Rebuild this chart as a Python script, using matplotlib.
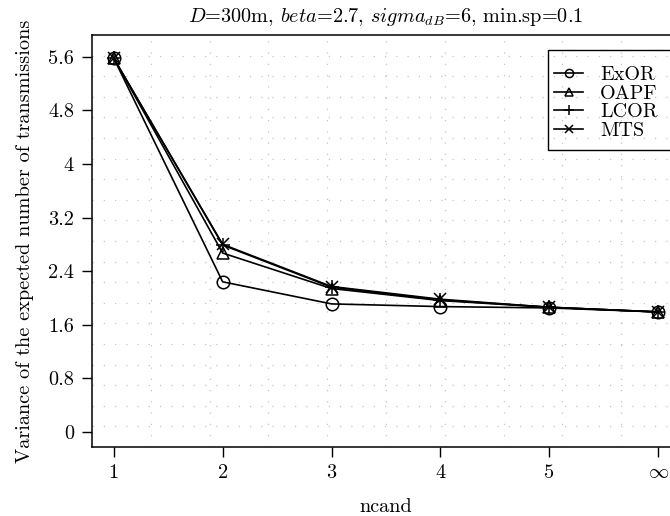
import matplotlib
matplotlib.use("Agg")
import matplotlib.pyplot as plt
from matplotlib.patches import Rectangle

plt.rcParams['font.family'] = ['cmr10', 'DejaVu Sans']
plt.rcParams['mathtext.fontset'] = 'cm'
plt.rcParams['axes.formatter.use_mathtext'] = True

x = [1, 2, 3, 4, 5, 6]
xticklabels = ['1', '2', '3', '4', '5', r'$\infty$']
exor = [5.58, 2.24, 1.91, 1.87, 1.85, 1.79]
oapf = [5.58, 2.67, 2.14, 1.96, 1.86, 1.79]
lcor = [5.58, 2.79, 2.16, 1.97, 1.86, 1.79]
mts = [5.58, 2.80, 2.17, 1.98, 1.86, 1.79]
yticks = [0, 0.8, 1.6, 2.4, 3.2, 4, 4.8, 5.6]
yticklabels = ['0', '0.8', '1.6', '2.4', '3.2', '4', '4.8', '5.6']

W, H = 670, 516
fig = plt.figure(figsize=(W / 100, H / 100), dpi=100)
l, r, t, b = 92, 680, 35, 447
ax = fig.add_axes([l / W, 1 - b / H, (r - l) / W, (b - t) / H])

fs = 14.6
ms = 9
ax.plot(x, exor, color='black', lw=1.2, marker='o', mfc='none', mec='black', ms=ms, mew=1.1, label='ExOR')
ax.plot(x, oapf, color='black', lw=1.2, marker='^', mfc='none', mec='black', ms=ms, mew=1.1, label='OAPF')
ax.plot(x, lcor, color='black', lw=1.2, marker='+', mec='black', ms=ms + 1, mew=1.1, label='LCOR')
ax.plot(x, mts, color='black', lw=1.2, marker='x', mec='black', ms=ms - 1, mew=1.1, label='MTS')

ax.set_xlim(0.8, 6.2)
ax.set_ylim(-0.228, 5.928)
ax.set_xticks(x)
ax.set_xticklabels(xticklabels, fontsize=fs)
ax.set_yticks(yticks)
ax.set_yticklabels(yticklabels, fontsize=fs)
ax.tick_params(direction='out', length=7, width=1, color='black', pad=6)
ax.tick_params(axis='x', pad=5)

# R-style grid: equal divisions of the plot region
for k in range(1, 10):
    ax.plot([k / 10, k / 10], [0, 1], color='#c4c4c4', lw=0.9, ls=(0, (1, 8)),
            transform=ax.transAxes, zorder=0)
for k in range(1, 20):
    ax.plot([0, 1], [k / 20, k / 20], color='#c4c4c4', lw=0.9, ls=(0, (1, 8)),
            transform=ax.transAxes, zorder=0)

for s in ax.spines.values():
    s.set_linewidth(1.1)

ax.set_xlabel('ncand', fontsize=fs, labelpad=12)
ax.set_ylabel('Variance of the expected number of transmissions', fontsize=fs, labelpad=10)
ax.set_title(r'$D$=300m, $beta$=2.7, $sigma_{dB}$=6, min.sp=0.1', fontsize=fs, pad=9)

handles, labels = ax.get_legend_handles_labels()
leg = ax.legend(handles[:4], labels[:4], loc='upper left', bbox_to_anchor=(554 / W, 1 - 66 / H),
                bbox_transform=fig.transFigure,
                fontsize=14.5, frameon=False,
                handlelength=1.44, handletextpad=0.85, labelspacing=0.02, borderpad=0.0, markerscale=0.65,
                borderaxespad=0)
fig.patches.append(Rectangle((548 / W, 1 - 150 / H), 150 / W, 100 / H, transform=fig.transFigure,
                             fill=False, ec='black', lw=1.0, zorder=5))

fig.savefig('out.png', dpi=100)
